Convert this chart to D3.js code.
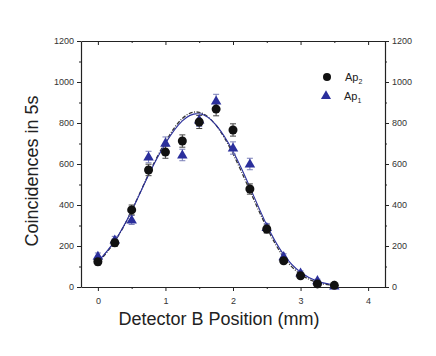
<!DOCTYPE html>
<html>
<head>
<meta charset="utf-8">
<script src="https://cdn.jsdelivr.net/npm/d3@7"></script>
<style>
  body { margin: 0; background: #fff; }
  svg text { font-family: "Liberation Sans", Arial, sans-serif; }
  .axis path, .axis line { stroke: #222; }
  .axis text { fill: #333; font-size: 9px; }
</style>
</head>
<body>
<div id="chart"></div>
<script>
// detector positions (mm)
var positions = [0, 0.25, 0.5, 0.75, 1, 1.25, 1.5, 1.75, 2, 2.25, 2.5, 2.75, 3, 3.25, 3.5];
// Ap2 coincidences (black circles) and their error bars
var ap2 = [123, 216, 376, 571, 658, 712, 805, 868, 766, 478, 283, 128, 55, 15, 8];
var ap2Err = [16, 18, 24, 28, 30, 30, 32, 33, 30, 25, 20, 14, 10, 7, 6];
// Ap1 coincidences (blue triangles) and their error bars
var ap1 = [150, 229, 327, 634, 702, 644, 815, 907, 678, 600, 290, 148, 68, 31, 5];
var ap1Err = [16, 18, 22, 28, 30, 28, 32, 33, 30, 28, 20, 14, 10, 7, 6];
// fitted curves
var fitX = [0, 0.25, 0.5, 0.75, 1, 1.25, 1.5, 1.75, 2, 2.25, 2.5, 2.75, 3, 3.25, 3.5];
var fitAp1 = [123, 225, 372, 546, 700, 810, 845, 790, 662, 487, 302, 158, 72, 28, 10];
var fitAp2 = [118, 222, 372, 550, 708, 822, 852, 788, 650, 470, 290, 146, 62, 22, 8];

var xTicks = [0, 1, 2, 3, 4];
var yTicks = [0, 200, 400, 600, 800, 1000, 1200];

var w = 436, h = 356;
var padL = 81, padR = 385, padT = 41, padB = 287;
var blue = "#2b2f9c";

var svg = d3.select("#chart").append("svg").attr("width", w).attr("height", h);

var xScale = d3.scaleLinear().domain([-0.25, 4.25]).range([padL, padR]);
var yScale = d3.scaleLinear().domain([0, 1200]).range([padB, padT]);

// minor ticks every half step
var xMinor = d3.range(0, 4.01, 0.5);
var yMinor = d3.range(0, 1201, 100);

function xLabel(d) { return xTicks.indexOf(d) >= 0 ? d : ""; }
function yLabel(d) { return yTicks.indexOf(d) >= 0 ? d : ""; }

// shorten the minor ticks to half length
function shortMinor(g, list, attr, sign) {
    g.selectAll(".tick").filter(function(d) { return list.indexOf(d) < 0; })
        .select("line").attr(attr, sign * 2);
}

var gx = svg.append("g").attr("class", "axis").attr("transform", "translate(0," + padB + ")")
    .call(d3.axisBottom(xScale).tickValues(xMinor).tickSize(4).tickSizeOuter(0).tickFormat(xLabel));
gx.selectAll("text").attr("dy", "1.1em");
shortMinor(gx, xTicks, "y2", 1);

var gxt = svg.append("g").attr("class", "axis").attr("transform", "translate(0," + padT + ")")
    .call(d3.axisBottom(xScale).tickValues(xMinor).tickSize(4).tickSizeOuter(0).tickFormat(""));
shortMinor(gxt, xTicks, "y2", 1);

var gy = svg.append("g").attr("class", "axis").attr("transform", "translate(" + padL + ",0)")
    .call(d3.axisLeft(yScale).tickValues(yMinor).tickSize(4).tickSizeOuter(0).tickFormat(yLabel));
shortMinor(gy, yTicks, "x2", -1);

var gyr = svg.append("g").attr("class", "axis").attr("transform", "translate(" + padR + ",0)")
    .call(d3.axisRight(yScale).tickValues(yMinor).tickSize(4).tickSizeOuter(0).tickFormat(yLabel));
shortMinor(gyr, yTicks, "x2", 1);

svg.selectAll(".axis path.domain").attr("stroke-width", 1.2);

// fit curves
var line = d3.line()
    .x(function(d) { return xScale(d[0]); })
    .y(function(d) { return yScale(d[1]); })
    .curve(d3.curveNatural);

svg.append("path")
    .attr("d", line(fitX.map(function(x, i) { return [x, fitAp2[i]]; })))
    .attr("fill", "none").attr("stroke", "#333").attr("stroke-width", 1.3)
    .attr("stroke-dasharray", "4,1.5,1,1.5");

svg.append("path")
    .attr("d", line(fitX.map(function(x, i) { return [x, fitAp1[i]]; })))
    .attr("fill", "none").attr("stroke", blue).attr("stroke-width", 1.1);

// error bars
function errorBars(vals, errs, color) {
    var g = svg.append("g").attr("stroke", color).attr("stroke-width", 1);
    positions.forEach(function(x, i) {
        var cx = xScale(x);
        var y1 = yScale(vals[i] + errs[i]), y2 = yScale(vals[i] - errs[i]);
        g.append("line").attr("x1", cx).attr("x2", cx).attr("y1", y1).attr("y2", y2);
        g.append("line").attr("x1", cx - 3).attr("x2", cx + 3).attr("y1", y1).attr("y2", y1);
        g.append("line").attr("x1", cx - 3).attr("x2", cx + 3).attr("y1", y2).attr("y2", y2);
    });
}
errorBars(ap1, ap1Err, "#7a7fb8");
errorBars(ap2, ap2Err, "#444");

var tri = d3.symbol().type(d3.symbolTriangle).size(48);

svg.append("g").selectAll("path")
    .data(positions)
    .enter()
    .append("path")
    .attr("d", tri)
    .attr("transform", function(d, i) {
        return "translate(" + xScale(d) + "," + (yScale(ap1[i]) + 0.5) + ")";
    })
    .attr("fill", blue);

svg.append("g").selectAll("circle")
    .data(positions)
    .enter()
    .append("circle")
    .attr("cx", function(d) { return xScale(d); })
    .attr("cy", function(d, i) { return yScale(ap2[i]); })
    .attr("r", 4.5)
    .attr("fill", "#111");

// legend
svg.append("circle").attr("cx", 327).attr("cy", 77).attr("r", 4).attr("fill", "#111");
var t2 = svg.append("text").attr("x", 345).attr("y", 81).style("font-size", "11px").style("fill", "#222");
t2.append("tspan").text("Ap");
t2.append("tspan").attr("dy", 3).style("font-size", "7px").text("2");

svg.append("path").attr("d", d3.symbol().type(d3.symbolTriangle).size(44)())
    .attr("transform", "translate(326,96)").attr("fill", blue);
var t1 = svg.append("text").attr("x", 344).attr("y", 100).style("font-size", "11px").style("fill", "#222");
t1.append("tspan").text("Ap");
t1.append("tspan").attr("dy", 3).style("font-size", "7px").text("1");

// axis titles
svg.append("text")
    .attr("text-anchor", "middle")
    .attr("x", 219)
    .attr("y", 325)
    .style("font-size", "18px").style("fill", "#222")
    .text("Detector B Position (mm)");

svg.append("text")
    .attr("text-anchor", "middle")
    .attr("transform", "translate(38,171) rotate(-90)")
    .style("font-size", "18px").style("fill", "#222")
    .text("Coincidences in 5s");
</script>
</body>
</html>
